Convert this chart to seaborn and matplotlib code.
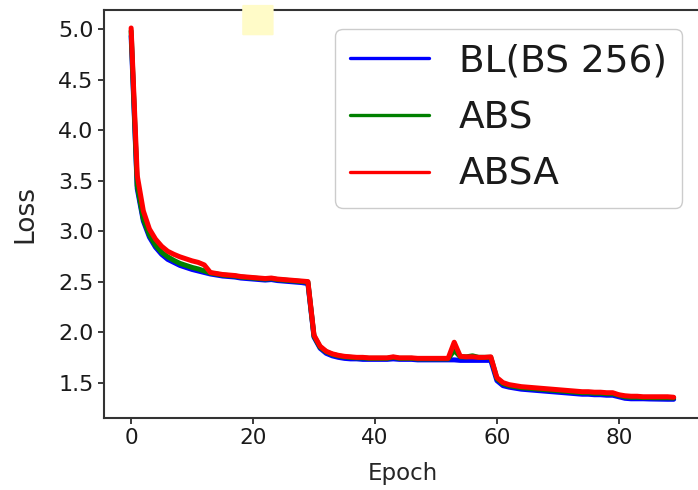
import matplotlib
matplotlib.use('Agg')
import matplotlib.pyplot as plt
import seaborn as sns
import pandas as pd
from matplotlib.patches import FancyBboxPatch

# valores (loss por época)
epochs = list(range(90))

loss_bl = [4.93, 3.42, 3.10, 2.94, 2.84, 2.77, 2.72, 2.69, 2.66, 2.64,
           2.62, 2.605, 2.59, 2.575, 2.565, 2.555, 2.55, 2.545, 2.535, 2.53,
           2.525, 2.52, 2.515, 2.52, 2.51, 2.505, 2.50, 2.495, 2.49, 2.48,
           1.95, 1.84, 1.79, 1.765, 1.75, 1.74, 1.735, 1.735, 1.73, 1.73,
           1.73, 1.73, 1.73, 1.735, 1.73, 1.73, 1.73, 1.725, 1.725, 1.725,
           1.725, 1.725, 1.725, 1.725, 1.72, 1.72, 1.72, 1.72, 1.72, 1.72,
           1.52, 1.47, 1.455, 1.445, 1.435, 1.43, 1.425, 1.42, 1.415, 1.41,
           1.405, 1.40, 1.395, 1.39, 1.385, 1.385, 1.38, 1.38, 1.375, 1.375,
           1.36, 1.345, 1.34, 1.34, 1.34, 1.338, 1.337, 1.336, 1.335, 1.335]

loss_abs = [4.98, 3.45, 3.12, 2.96, 2.86, 2.79, 2.745, 2.71, 2.68, 2.66,
            2.64, 2.625, 2.605, 2.585, 2.575, 2.565, 2.56, 2.555, 2.545, 2.54,
            2.535, 2.53, 2.525, 2.53, 2.52, 2.515, 2.51, 2.505, 2.50, 2.495,
            1.96, 1.85, 1.805, 1.78, 1.765, 1.755, 1.75, 1.745, 1.745, 1.74,
            1.74, 1.74, 1.74, 1.75, 1.74, 1.74, 1.74, 1.735, 1.735, 1.735,
            1.735, 1.735, 1.735, 1.82, 1.755, 1.755, 1.765, 1.75, 1.75, 1.75,
            1.54, 1.49, 1.47, 1.46, 1.45, 1.445, 1.44, 1.435, 1.43, 1.425,
            1.42, 1.415, 1.41, 1.405, 1.40, 1.40, 1.395, 1.395, 1.39, 1.39,
            1.375, 1.36, 1.355, 1.355, 1.352, 1.352, 1.35, 1.35, 1.35, 1.348]

loss_absa = [5.01, 3.55, 3.20, 3.02, 2.92, 2.85, 2.80, 2.77, 2.745, 2.725,
             2.705, 2.69, 2.665, 2.59, 2.58, 2.57, 2.565, 2.56, 2.55, 2.545,
             2.54, 2.535, 2.53, 2.535, 2.525, 2.52, 2.515, 2.51, 2.505, 2.50,
             1.97, 1.86, 1.81, 1.785, 1.77, 1.76, 1.755, 1.75, 1.75, 1.745,
             1.745, 1.745, 1.745, 1.755, 1.745, 1.745, 1.745, 1.74, 1.74, 1.74,
             1.74, 1.74, 1.74, 1.90, 1.76, 1.755, 1.755, 1.75, 1.75, 1.755,
             1.55, 1.50, 1.48, 1.47, 1.46, 1.455, 1.45, 1.445, 1.44, 1.435,
             1.43, 1.425, 1.42, 1.415, 1.41, 1.41, 1.405, 1.405, 1.40, 1.40,
             1.38, 1.37, 1.365, 1.365, 1.36, 1.36, 1.36, 1.36, 1.36, 1.355]

labels = ['BL(BS 256)', 'ABS', 'ABSA']
cores = ['blue', 'green', 'red']

df = pd.DataFrame({
    'Epoch': epochs * 3,
    'Loss': loss_bl + loss_abs + loss_absa,
    'Metodo': [labels[0]] * 90 + [labels[1]] * 90 + [labels[2]] * 90,
})

sns.set_style('ticks', {'axes.edgecolor': '.2', 'text.color': '.1',
                        'xtick.color': '.1', 'ytick.color': '.1'})

fig = plt.figure(figsize=(6.98, 4.9), dpi=100)
ax = fig.add_axes([0.149, 0.147, 0.855, 0.833])

sns.lineplot(data=df, x='Epoch', y='Loss', hue='Metodo', hue_order=labels,
             palette=cores, linewidth=3.6, ax=ax)

ax.set_xlim(-4.45, 93.45)
ax.set_ylim(1.15, 5.19)
ax.set_xticks([0, 20, 40, 60, 80])
ax.set_yticks([1.5, 2.0, 2.5, 3.0, 3.5, 4.0, 4.5, 5.0])
ax.tick_params(axis='y', labelsize=16, length=4, width=1.2)
ax.tick_params(axis='x', labelsize=15.5, length=4, width=1.2)
for s in ax.spines.values():
    s.set_linewidth(1.5)
ax.set_xlabel('Epoch', fontsize=16.5, labelpad=10)
ax.set_ylabel('Loss', fontsize=19, labelpad=14)

leg = ax.legend(fontsize=27, loc='upper right', framealpha=1,
                labelspacing=0.55, handlelength=2.1)
for l in leg.get_lines():
    l.set_linewidth(2.4)

# marca amarela que aparece na imagem original
fig.patches.append(FancyBboxPatch((0.349, 0.93), 0.041, 0.058,
                                  boxstyle='round,pad=0.002',
                                  transform=fig.transFigure,
                                  facecolor='#fffbc8', edgecolor='none',
                                  zorder=10))

plt.savefig('out.png', dpi=100)
